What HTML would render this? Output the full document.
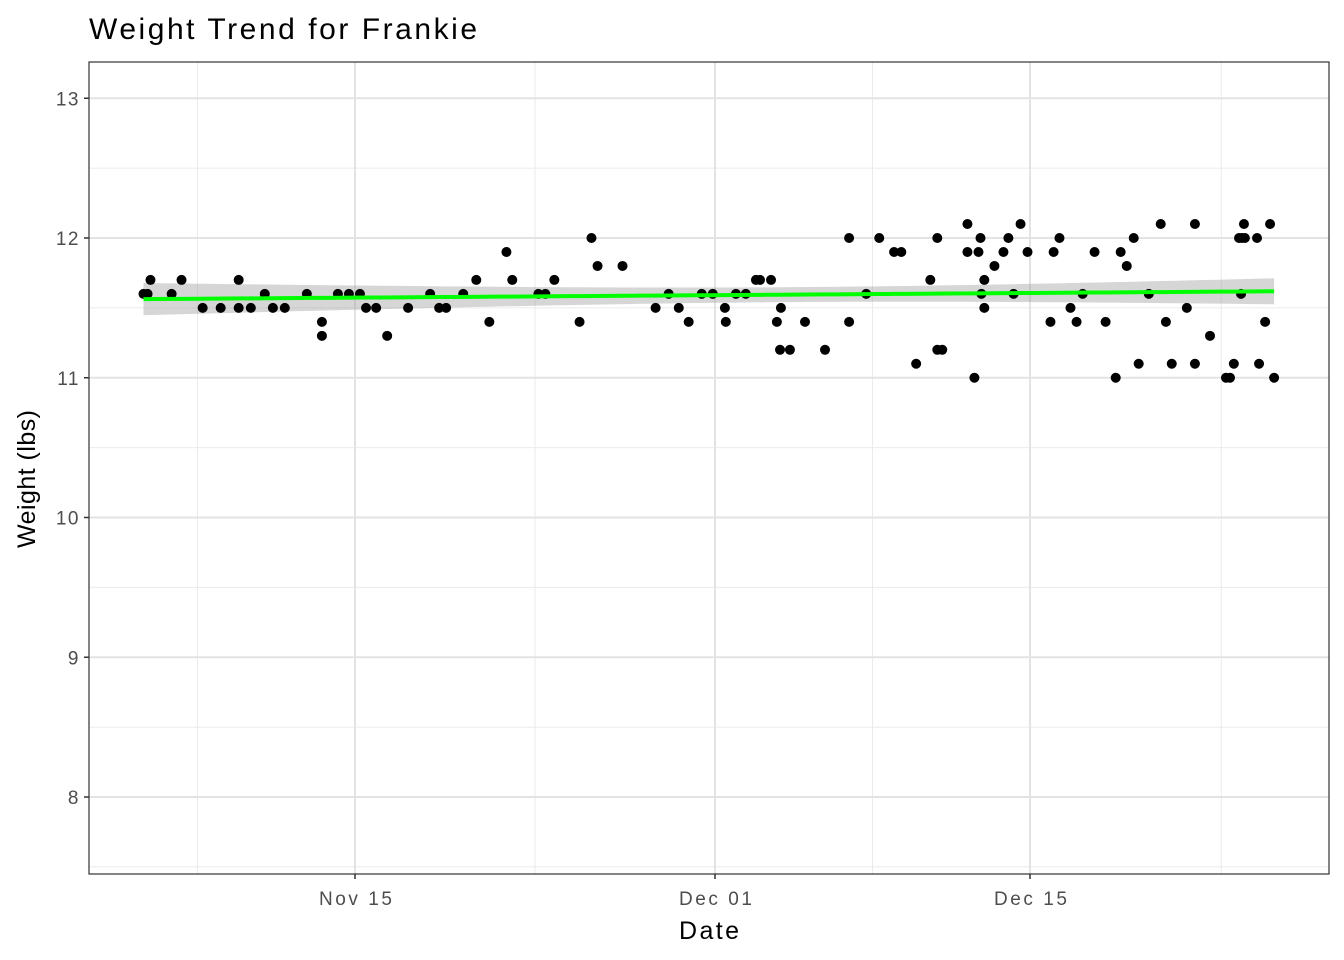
<!DOCTYPE html>
<html><head><meta charset="utf-8"><style>
html,body{margin:0;padding:0;background:#fff;}
svg{display:block;font-family:"Liberation Sans",Arial,sans-serif;}
</style></head><body>
<svg id="chart" width="1344" height="960" viewBox="0 0 1344 960"></svg>
<script>
// Days since Nov 1
const dates=[4.6,4.78,4.91,5.85,6.29,7.23,8.03,8.83,8.83,9.37,9.99,10.35,10.88,11.86,12.53,12.53,13.24,13.73,14.22,14.49,14.94,15.43,16.36,17.34,17.74,18.05,18.81,19.39,19.97,20.73,20.99,22.15,22.46,22.86,23.98,24.51,24.78,25.89,27.36,27.94,28.39,28.83,29.41,29.9,30.44,30.48,30.93,31.37,31.82,32.0,32.49,32.75,32.89,32.93,33.33,34.0,34.89,35.96,35.96,36.72,37.3,37.96,38.28,38.94,39.57,39.88,39.88,40.1,41.22,41.22,41.53,41.71,41.8,41.84,41.97,41.97,42.42,42.82,43.04,43.27,43.58,43.89,44.91,45.05,45.31,45.8,46.07,46.34,46.87,47.36,47.81,48.03,48.3,48.61,48.83,49.28,49.81,50.04,50.3,50.97,51.33,51.33,52.0,52.71,52.89,53.06,53.29,53.38,53.42,53.51,53.55,54.09,54.18,54.45,54.67,54.85];
const weights=[11.6,11.6,11.7,11.6,11.7,11.5,11.5,11.7,11.5,11.5,11.6,11.5,11.5,11.6,11.3,11.4,11.6,11.6,11.6,11.5,11.5,11.3,11.5,11.6,11.5,11.5,11.6,11.7,11.4,11.9,11.7,11.6,11.6,11.7,11.4,12.0,11.8,11.8,11.5,11.6,11.5,11.4,11.6,11.6,11.5,11.4,11.6,11.6,11.7,11.7,11.7,11.4,11.2,11.5,11.2,11.4,11.2,12.0,11.4,11.6,12.0,11.9,11.9,11.1,11.7,12.0,11.2,11.2,12.1,11.9,11.0,11.9,12.0,11.6,11.5,11.7,11.8,11.9,12.0,11.6,12.1,11.9,11.4,11.9,12.0,11.5,11.4,11.6,11.9,11.4,11.0,11.9,11.8,12.0,11.1,11.6,12.1,11.4,11.1,11.5,12.1,11.1,11.3,11.0,11.0,11.1,12.0,11.6,12.0,12.1,12.0,12.0,11.1,11.4,12.1,11.0];
const yTicks=[8,9,10,11,12,13];
const yMinor=[7.5,8.5,9.5,10.5,11.5,12.5];
const xTickDays=[14,30,44];
const xTickLabels=["Nov 15","Dec 01","Dec 15"];
const xMinor=[7,22,37,52.5];

const L=89,R=1329,T=62,B=874;
const X=d=>355+(d-14)*22.5;
const Y=v=>797-(v-8)*139.75;
const svg=document.getElementById('chart');
const NS='http://www.w3.org/2000/svg';
function mk(tag,attrs,parent){const e=document.createElementNS(NS,tag);for(const k in attrs)e.setAttribute(k,attrs[k]);(parent||svg).appendChild(e);return e;}

const g=mk('g',{});


yMinor.forEach(v=>mk('line',{x1:L,x2:R,y1:Y(v),y2:Y(v),stroke:'#ebebeb','stroke-width':1},g));
xMinor.forEach(d=>mk('line',{x1:X(d),x2:X(d),y1:T,y2:B,stroke:'#ebebeb','stroke-width':1},g));
yTicks.forEach(v=>mk('line',{x1:L,x2:R,y1:Y(v),y2:Y(v),stroke:'#e3e3e3','stroke-width':2},g));
xTickDays.forEach(d=>mk('line',{x1:X(d),x2:X(d),y1:T,y2:B,stroke:'#e3e3e3','stroke-width':2},g));

// regression
const n=dates.length;
const mx=dates.reduce((a,b)=>a+b)/n, my=weights.reduce((a,b)=>a+b)/n;
let sxx=0,sxy=0;for(let i=0;i<n;i++){sxx+=(dates[i]-mx)**2;sxy+=(dates[i]-mx)*(weights[i]-my);}
const b1=sxy/sxx,b0=my-b1*mx;
let sse=0;for(let i=0;i<n;i++)sse+=(weights[i]-b0-b1*dates[i])**2;
const s=Math.sqrt(sse/(n-2));
const x0=Math.min(...dates),x1=Math.max(...dates);
let up=[],lo=[],mid=[];
for(let k=0;k<=80;k++){const d=x0+(x1-x0)*k/80;const f=b0+b1*d;const se=1.98*s*Math.sqrt(1/n+(d-mx)**2/sxx);
up.push(X(d)+','+Y(f+se));lo.unshift(X(d)+','+Y(f-se));mid.push(X(d)+','+Y(f));}
const band=mk('polygon',{points:up.concat(lo).join(' '),fill:'#999','fill-opacity':0.4});



const pts=mk('g',{});


for(let i=0;i<n;i++){const c=mk('circle',{cx:X(dates[i]),cy:Y(weights[i]),r:5,fill:'#000'},pts);

}

const tl=mk('polyline',{points:mid.join(' '),fill:'none',stroke:'#00ff00','stroke-width':4});



const fr=mk('rect',{x:L,y:T,width:R-L,height:B-T,fill:'none',stroke:'#333','stroke-width':1.2});



const ya=mk('g',{});


yTicks.forEach(v=>{mk('line',{x1:L-5,x2:L,y1:Y(v),y2:Y(v),stroke:'#333','stroke-width':1.5},ya);
const t=mk('text',{x:L-9,y:Y(v)+7,'text-anchor':'end','font-size':19,fill:'#4d4d4d','letter-spacing':1.5},ya);t.textContent=v;});
const xa=mk('g',{});


xTickDays.forEach((d,i)=>{mk('line',{x1:X(d),x2:X(d),y1:B,y2:B+5,stroke:'#333','stroke-width':1.5},xa);
const t=mk('text',{x:X(d)-36,y:B+31,'font-size':19,fill:'#4d4d4d',textLength:73,lengthAdjust:'spacing'},xa);t.textContent=xTickLabels[i];});

const xt=mk('text',{x:679,y:939,'font-size':25,fill:'#000',textLength:60,lengthAdjust:'spacing'});xt.textContent='Date';


const yt=mk('text',{x:0,y:0,transform:'translate(35,548) rotate(-90)','font-size':25,fill:'#000',textLength:138,lengthAdjust:'spacing'});yt.textContent='Weight (lbs)';


const tt=mk('text',{x:89,y:39,'font-size':30,fill:'#000',textLength:388,lengthAdjust:'spacing'});tt.textContent='Weight Trend for Frankie';


</script>
</body></html>
